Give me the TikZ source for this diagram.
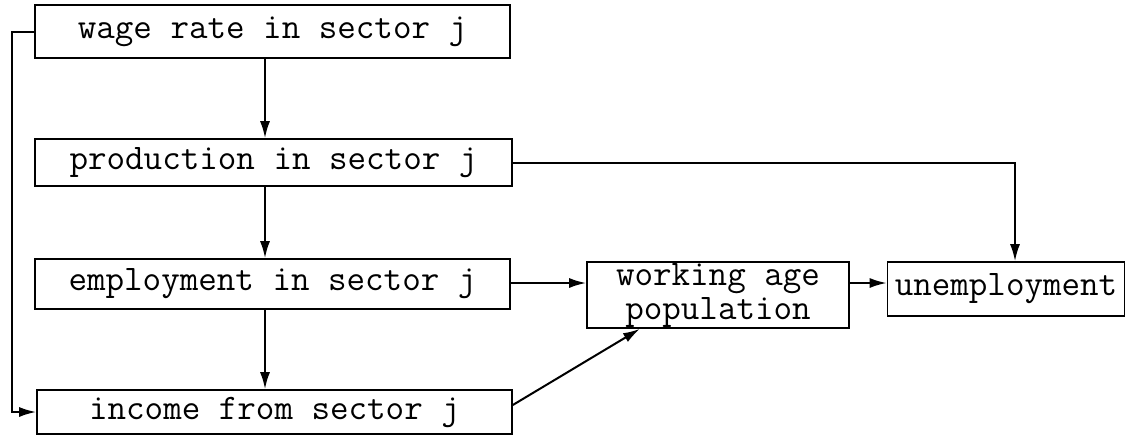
\documentclass[tikz,border=0pt]{standalone}
\usetikzlibrary{arrows.meta}
\begin{document}
\begin{tikzpicture}[x=1pt,y=-1pt,
  every node/.style={font=\ttfamily\fontsize{36}{36}\selectfont},
  blk/.style={draw,line width=1.6pt,inner sep=0pt,align=center},
  link/.style={line width=2pt,-{Latex[length=17pt,width=10pt]}}]
\useasboundingbox (0,0) rectangle (1131,434);
% boxes
\node[blk,minimum width=475pt,minimum height=53pt] (wage) at (272.5,31.5) {wage rate in sector j};
\node[blk,minimum width=477pt,minimum height=47pt] (prod) at (273.5,162.5) {production in sector j};
\node[blk,minimum width=475pt,minimum height=50pt] (empl) at (272.5,284) {employment in sector j};
\node[blk,minimum width=475pt,minimum height=44pt] (inc) at (274.5,412) {income from sector j};
\node[blk,minimum width=262pt,minimum height=66pt] (work) at (718,295) {working age\\[-2pt]population};
\node[blk,minimum width=237pt,minimum height=54pt] (unem) at (1006,289) {unemployment};
% connectors
\coordinate (fb) at (12,0);
\draw[link] (wage.south -| 265,0) -- (prod.north -| 265,0);
\draw[link] (prod.south -| 265,0) -- (empl.north -| 265,0);
\draw[link] (empl.south -| 265,0) -- (inc.north -| 265,0);
\draw[link] (wage.west) -| (fb |- inc.west) -- (inc.west);
\draw[link] (prod.east) -| (unem.north -| 1015,0);
\draw[link] (empl.east |- 0,283) -- (work.west |- 0,283);
\draw[link] (work.east |- 0,283) -- (unem.west |- 0,283);
\draw[link] (inc.east |- 0,405) -- (work.south -| 640,0);
\end{tikzpicture}
\end{document}
